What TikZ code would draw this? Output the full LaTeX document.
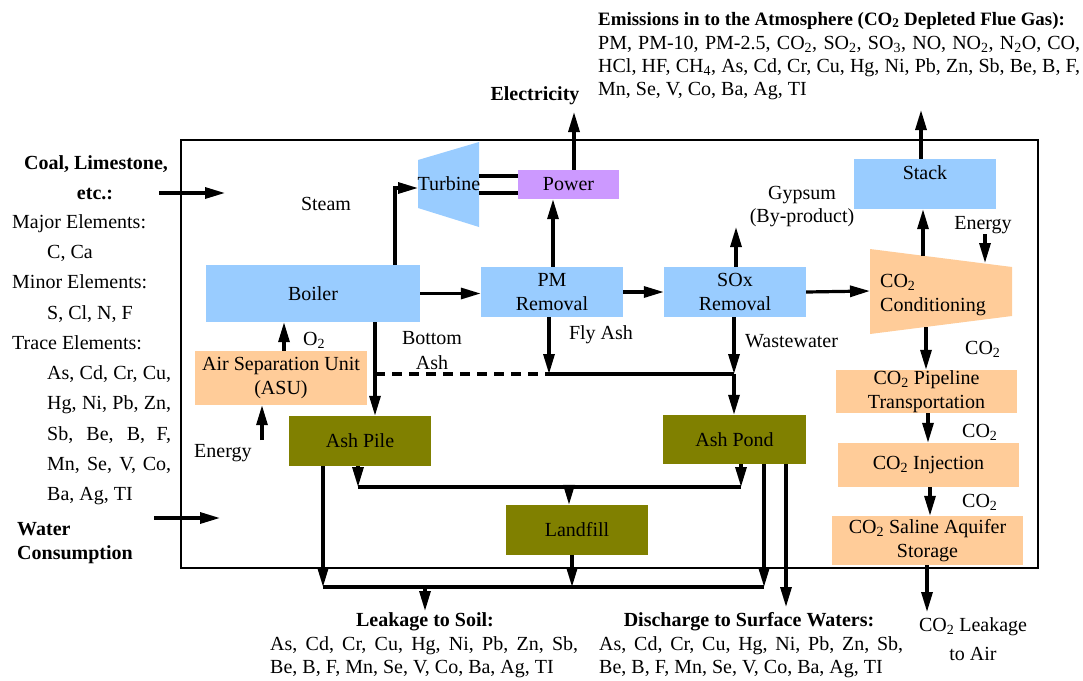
\documentclass[tikz,border=0pt]{standalone}
\usepackage{fontspec}
\setmainfont{Liberation Serif}
\usetikzlibrary{arrows.meta,calc}
\definecolor{lblue}{HTML}{99CCFF}
\definecolor{lpurple}{HTML}{CC99FF}
\definecolor{peach}{HTML}{FFCC99}
\definecolor{olivebox}{HTML}{808000}
\newcommand\sbs[1]{\textsubscript{#1}}
\begin{document}
\begin{tikzpicture}[x=1pt,y=-1pt,
  font=\fontsize{20}{23.5}\selectfont,
  box/.style={draw=none,inner sep=0pt,align=center},
  arr/.style={line width=3.2pt,-{Triangle[length=20pt,width=11pt]}},
  ln/.style={line width=3.2pt},
  txt/.style={inner sep=0pt,anchor=base west},
  ctxt/.style={inner sep=0pt,anchor=base},
]
\useasboundingbox (0,0) rectangle (1083,680);
% frame
\draw[line width=2pt] (181,140) rectangle (1038,568);

% boxes
\node[box,fill=lblue,minimum width=214pt,minimum height=57pt] (boiler) at (313,293.5) {Boiler};
\node[box,fill=lblue,minimum width=142pt,minimum height=50pt] (pm) at (552,292) {PM\\Removal};
\node[box,fill=lblue,minimum width=142pt,minimum height=50pt] (sox) at (735,292) {SOx\\Removal};
\node[box,fill=lpurple,minimum width=101pt,minimum height=29pt] (power) at (568.5,184.5) {Power};
\node[box,fill=lblue,minimum width=142pt,minimum height=50pt] (stack) at (925,184) {};
\node[ctxt] (stacklbl) at (925,179) {Stack};
\node[box,fill=peach,minimum width=172pt,minimum height=54pt] (asu) at (281,378) {Air Separation Unit\\(ASU)};
\node[box,fill=olivebox,minimum width=142pt,minimum height=50pt] (ashpile) at (360,441) {Ash Pile};
\node[box,fill=olivebox,minimum width=143pt,minimum height=49pt] (ashpond) at (734.5,439.5) {Ash Pond};
\node[box,fill=olivebox,minimum width=142pt,minimum height=50pt] (landfill) at (577,530) {Landfill};
\node[box,fill=peach,minimum width=181pt,minimum height=43pt] (pipeline) at (926.5,391.5) {CO\sbs{2} Pipeline\\Transportation};
\node[box,fill=peach,minimum width=181pt,minimum height=44pt] (injection) at (928.5,465) {CO\sbs{2} Injection};
\node[box,fill=peach,minimum width=191pt,minimum height=49pt] (saline) at (927.5,540.5) {CO\sbs{2} Saline Aquifer\\Storage};

% turbine and conditioning (trapezoids)
\fill[lblue] (418,160) -- (479,142) -- (479,227) -- (418,208) -- cycle;
\node[inner sep=0pt] (turbine) at (449,184) {Turbine};
\fill[peach] (870,249) -- (1012,267) -- (1012,316) -- (870,334) -- cycle;
\node[inner sep=0pt,align=left,anchor=west] (cond) at (880,295) {CO\sbs{2}\\Conditioning};

% coordinates for connector ends
\coordinate (coalA) at (159,193);
\coordinate (coalB) at (225,193);
\coordinate (waterA) at (154,518);
\coordinate (waterB) at (220,518);
\coordinate (turbIn) at (418,188);
\coordinate (turbR1) at (479,176);
\coordinate (turbR2) at (479,193);
\coordinate (elec) at (574,112);
\coordinate (gyp) at (736,227);
\coordinate (jPM) at (549,374);
\coordinate (jSOx) at (734,374);
\coordinate (jBA) at (375,374);
\coordinate (energyA) at (262,440);
\coordinate (condTop) at (923,256);
\coordinate (condBot) at (926,327);
\coordinate (condL) at (870,291);
\coordinate (atm) at (921,110);
\coordinate (energyB) at (985,234);
\coordinate (energyC) at (985,263);
\coordinate (airleak) at (927,612);
\coordinate (lineL) at (358,487);
\coordinate (lineR) at (741,487);
\coordinate (lineM) at (569,487);
\coordinate (soilL) at (323,587);
\coordinate (soilR) at (764,587);
\coordinate (soil) at (425,587);
\coordinate (soilT) at (425,611);
\coordinate (surf) at (786,607);

% connectors
\draw[arr] (coalA) -- (coalB);
\draw[arr] (waterA) -- (waterB);
\draw[arr] ([xshift=82pt]boiler.north) |- (turbIn);
\draw[ln] (turbR1) -- (turbR1 -| power.west);
\draw[ln] (turbR2) -- (turbR2 -| power.west);
\draw[arr] (elec |- power.north) -- (elec);
\draw[arr] ([xshift=1pt]pm.north) -- ([xshift=1pt]pm.north |- power.south);
\draw[arr] (boiler.east) -- (boiler.east -| pm.west);
\draw[arr] (pm.east) -- (pm.east -| sox.west);
\draw[arr] (sox.east) -- (condL);
\draw[arr] (gyp |- sox.north) -- (gyp);
\draw[arr] (jSOx |- sox.south) -- (jSOx);
\draw[arr] (jSOx) -- (jSOx |- ashpond.north);
\draw[arr] (jPM |- pm.south) -- (jPM);
\draw[ln] (jPM) -- (jSOx);
\draw[line width=3.2pt,dash pattern=on 10pt off 7pt] (jBA) -- (jPM);
\draw[arr] (jBA |- boiler.south) -- (jBA |- ashpile.north);
\draw[arr] ([xshift=3pt]asu.north) -- ([xshift=3pt]asu.north |- boiler.south);
\draw[arr] (energyA) -- (energyA |- asu.south);
\draw[arr] (condTop) -- (condTop |- stack.south);
\draw[arr] ([xshift=-4pt]stack.north) -- (atm);
\draw[arr] (energyB) -- (energyC);
\draw[arr] (condBot) -- (condBot |- pipeline.north);
\draw[arr] ([xshift=1.5pt]pipeline.south) -- ([xshift=1.5pt]pipeline.south |- injection.north);
\draw[arr] ([xshift=1.5pt]injection.south) -- ([xshift=1.5pt]injection.south |- saline.north);
\draw[arr] (airleak |- saline.south) -- (airleak);
\draw[arr] (lineL |- ashpile.south) -- (lineL);
\draw[arr] (lineR |- ashpond.south) -- (lineR);
\draw[ln] (lineL) -- (lineR);
\draw[arr] (lineM) -- (lineM |- landfill.north);
\draw[arr] (soilL |- ashpile.south) -- (soilL);
\draw[arr] (soilR |- ashpond.south) -- (soilR);
\draw[ln] (soilL) -- (soilR);
\draw[arr] ([xshift=-5pt]landfill.south) -- ([xshift=-5pt]landfill.south |- soilL);
\draw[arr] (surf |- ashpond.south) -- (surf);
\draw[arr] (soil) -- (soilT);

% left texts
\node[ctxt] (coal) at (96,169) {\textbf{Coal, Limestone,}};
\node[ctxt] (etc) at (95,199) {\textbf{etc.:}};
\node[txt] (maj) at (12,228) {Major Elements:};
\node[txt] (majl) at (47,258) {C, Ca};
\node[txt] (min) at (12,288) {Minor Elements:};
\node[txt] (minl) at (47,319) {S, Cl, N, F};
\node[txt] (tra) at (12,349) {Trace Elements:};
\node[txt] (tr1) at (47,379) {\makebox[124pt][s]{As, Cd, Cr, Cu,}};
\node[txt] (tr2) at (47,409) {\makebox[124pt][s]{Hg, Ni, Pb, Zn,}};
\node[txt] (tr3) at (47,440) {\makebox[124pt][s]{Sb, Be, B, F,}};
\node[txt] (tr4) at (47,470) {\makebox[124pt][s]{Mn, Se, V, Co,}};
\node[txt] (tr5) at (47,500) {Ba, Ag, TI};
\node[txt] (water) at (17,535) {\textbf{Water}};
\node[txt] (cons) at (17,559) {\textbf{Consumption}};

% top texts
\node[txt] (em0) at (598,25) {\fontsize{18.9}{22}\selectfont\textbf{Emissions in to the Atmosphere (CO\sbs{2} Depleted Flue Gas):}};
\node[txt] (em1) at (598,49) {\makebox[482pt][s]{PM, PM-10, PM-2.5, CO\sbs{2}, SO\sbs{2}, SO\sbs{3}, NO, NO\sbs{2}, N\sbs{2}O, CO,}};
\node[txt] (em2) at (598,72) {\makebox[482pt][s]{HCl, HF, CH\sbs{4}, As, Cd, Cr, Cu, Hg, Ni, Pb, Zn, Sb, Be, B, F,}};
\node[txt] (em3) at (598,95) {Mn, Se, V, Co, Ba, Ag, TI};
\node[ctxt] (elect) at (535,100) {\textbf{Electricity}};

% inner labels
\node[ctxt] (steam) at (326,210) {Steam};
\node[ctxt] (gyp1) at (802,199) {Gypsum};
\node[ctxt] (gyp2) at (802,222) {(By-product)};
\node[ctxt] (en2) at (983,229) {Energy};
\node[txt] (o2) at (303,345) {O\sbs{2}};
\node[ctxt] (bot1) at (432,344) {Bottom};
\node[ctxt] (bot2) at (432,369) {Ash};
\node[ctxt] (fly) at (601,339) {Fly Ash};
\node[txt] (ww) at (745,347) {Wastewater};
\node[txt] (en1) at (194,457) {Energy};
\node[txt] (co2a) at (965,354) {CO\sbs{2}};
\node[txt] (co2b) at (962,437) {CO\sbs{2}};
\node[txt] (co2c) at (962,507) {CO\sbs{2}};

% bottom texts
\node[ctxt] (soilh) at (425,626) {\textbf{Leakage to Soil:}};
\node[txt] (soil1) at (270,650) {\makebox[308pt][s]{As, Cd, Cr, Cu, Hg, Ni, Pb, Zn, Sb,}};
\node[txt] (soil2) at (270,673) {Be, B, F, Mn, Se, V, Co, Ba, Ag, TI};
\node[ctxt] (surfh) at (749,626) {\textbf{Discharge to Surface Waters:}};
\node[txt] (surf1) at (599,650) {\makebox[304pt][s]{As, Cd, Cr, Cu, Hg, Ni, Pb, Zn, Sb,}};
\node[txt] (surf2) at (599,673) {Be, B, F, Mn, Se, V, Co, Ba, Ag, TI};
\node[ctxt] (leak1) at (973,631) {CO\sbs{2} Leakage};
\node[ctxt] (leak2) at (973,660) {to Air};
\end{tikzpicture}
\end{document}
